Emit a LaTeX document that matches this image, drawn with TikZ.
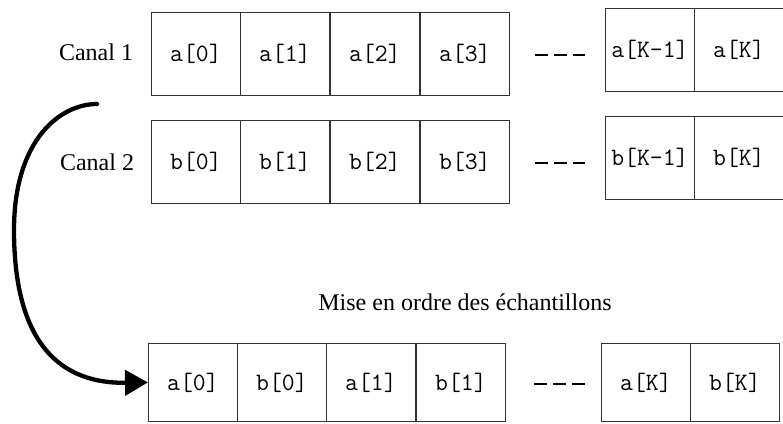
\documentclass[tikz,border=0pt]{standalone}
\usepackage{fontspec}
\setmainfont{Liberation Serif}
\usetikzlibrary{arrows.meta}
\begin{document}
\begin{tikzpicture}[x=1pt,y=-1pt,
  cell/.style={draw=black!80,line width=0.8pt,inner sep=0pt,anchor=north west,font=\ttfamily\fontsize{25}{28}\selectfont},
  lbl/.style={font=\fontsize{24}{28}\selectfont,inner sep=0pt},
  dots/.style={line width=2.6pt,dash pattern=on 13pt off 6pt},
  bigarrow/.style={line width=4.3pt,line cap=round,-{Triangle[length=23pt,width=25pt]}}]
\useasboundingbox (0,0) rectangle (783,423);
% row 1
\foreach \n/\x/\t in {a0/151/a[0],a1/240/a[1],a2/330/a[2],a3/420/a[3]}
  \node[cell,minimum width=89pt,minimum height=83pt] (\n) at (\x,12) {\t};
\node[cell,minimum width=89pt,minimum height=83pt] (aK1) at (605,8) {a[K-1]};
\node[cell,minimum width=89pt,minimum height=83pt] (aK) at (694,8) {a[K]};
% row 2
\foreach \n/\x/\t in {b0/151/b[0],b1/240/b[1],b2/330/b[2],b3/420/b[3]}
  \node[cell,minimum width=89pt,minimum height=83pt] (\n) at (\x,120) {\t};
\node[cell,minimum width=89pt,minimum height=83pt] (bK1) at (605,116) {b[K-1]};
\node[cell,minimum width=89pt,minimum height=83pt] (bK) at (694,116) {b[K]};
% row 3
\node[cell,minimum width=89pt,minimum height=78pt] (c0) at (148,343) {a[0]};
\node[cell,minimum width=89pt,minimum height=78pt] (c1) at (237,343) {b[0]};
\node[cell,minimum width=89pt,minimum height=78pt] (c2) at (326,343) {a[1]};
\node[cell,minimum width=89pt,minimum height=78pt] (c3) at (416,343) {b[1]};
\node[cell,minimum width=89pt,minimum height=78pt] (cK1) at (601,343) {a[K]};
\node[cell,minimum width=89pt,minimum height=78pt] (cK) at (690,343) {b[K]};
% labels
\node[lbl] (l1) at (96,52) {Canal 1};
\node[lbl] (l2) at (97,162) {Canal 2};
\node[lbl] (l3) at (465,302) {Mise en ordre des échantillons};
% dashes
\coordinate (d1s) at (535,55); \coordinate (d1e) at (585,55);
\coordinate (d2s) at (535,163); \coordinate (d2e) at (585,163);
\coordinate (d3s) at (534,384); \coordinate (d3e) at (587,384);
\draw[dots] (d1s) -- (d1e);
\draw[dots] (d2s) -- (d2e);
\draw[dots] (d3s) -- (d3e);
% arrow
\coordinate (s) at (97,104);
\draw[bigarrow] (s) .. controls (60,104) and (14,140) .. (14,230)
  .. controls (14,330) and (50,384) .. (c0.west);
\end{tikzpicture}
\end{document}
